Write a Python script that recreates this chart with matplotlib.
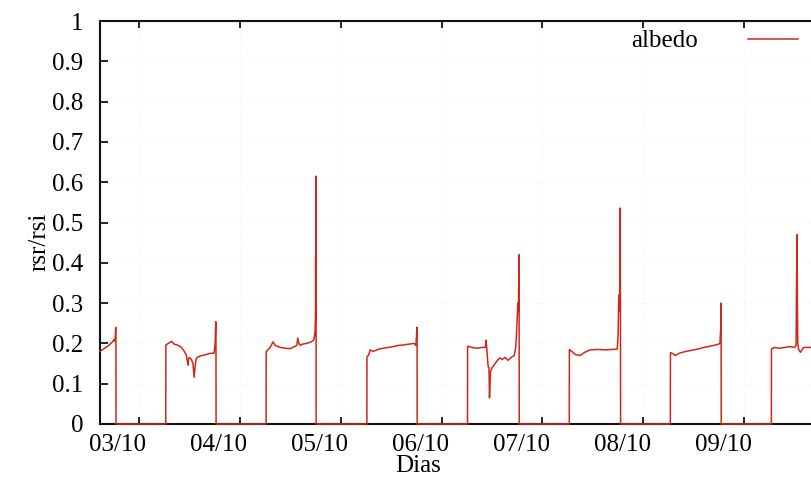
import matplotlib
matplotlib.use("Agg")
import matplotlib.pyplot as plt
import numpy as np

# ---- data (time in day-of-month, October) ----
day_ticks = [3, 4, 5, 6, 7, 8, 9]
day_labels = ["03/10", "04/10", "05/10", "06/10", "07/10", "08/10", "09/10"]

time = [
    2.613, 2.64, 2.67, 2.70, 2.72, 2.74, 2.755, 2.762, 2.769, 2.771, 2.772,
    3.265, 3.266, 3.29, 3.324, 3.35, 3.39, 3.42, 3.437, 3.45, 3.47, 3.48, 3.486, 3.49, 3.50,
    3.52, 3.535, 3.546, 3.555, 3.565, 3.575, 3.60, 3.63, 3.66, 3.70, 3.744, 3.755, 3.761, 3.763, 3.764,
    4.260, 4.261, 4.28, 4.30, 4.329, 4.35, 4.40, 4.45, 4.50, 4.54, 4.565, 4.574, 4.585, 4.597,
    4.62, 4.66, 4.70, 4.716, 4.735, 4.746, 4.750, 4.751, 4.753, 4.755, 4.756,
    5.259, 5.26, 5.275, 5.292, 5.32, 5.35, 5.38, 5.42, 5.47, 5.52, 5.57, 5.62, 5.67, 5.728,
    5.745, 5.752, 5.755, 5.757, 5.758,
    6.257, 6.258, 6.30, 6.35, 6.40, 6.433, 6.442, 6.45, 6.462, 6.47, 6.475, 6.485, 6.502, 6.53,
    6.56, 6.581, 6.60, 6.63, 6.66, 6.69, 6.72, 6.735, 6.740, 6.750, 6.757, 6.762, 6.768, 6.770,
    7.266, 7.267, 7.29, 7.33, 7.375, 7.42, 7.474, 7.55, 7.62, 7.70, 7.742, 7.750, 7.752, 7.757,
    7.765, 7.772, 7.775,
    8.268, 8.269, 8.29, 8.317, 8.36, 8.42, 8.48, 8.54, 8.60, 8.66, 8.70, 8.744, 8.76, 8.768, 8.771, 8.773,
    9.270, 9.271, 9.30, 9.35, 9.40, 9.45, 9.50, 9.515, 9.52, 9.525, 9.528, 9.532, 9.54, 9.558,
    9.59, 9.667, 9.70, 9.77, 9.772, 10.0,
]
albedo = [
    0.180, 0.185, 0.19, 0.195, 0.20, 0.205, 0.21, 0.205, 0.24, 0.21, 0.0,
    0.0, 0.196, 0.20, 0.205, 0.198, 0.195, 0.19, 0.184, 0.18, 0.17, 0.155, 0.146, 0.16, 0.165,
    0.16, 0.15, 0.116, 0.14, 0.16, 0.165, 0.168, 0.17, 0.172, 0.175, 0.176, 0.20, 0.254, 0.18, 0.0,
    0.0, 0.18, 0.185, 0.19, 0.204, 0.195, 0.19, 0.188, 0.187, 0.192, 0.195, 0.213, 0.20, 0.195,
    0.198, 0.20, 0.203, 0.205, 0.21, 0.23, 0.28, 0.415, 0.30, 0.615, 0.0,
    0.0, 0.167, 0.17, 0.184, 0.18, 0.183, 0.186, 0.188, 0.19, 0.192, 0.195, 0.196, 0.198, 0.20,
    0.195, 0.22, 0.24, 0.20, 0.0,
    0.0, 0.193, 0.19, 0.188, 0.19, 0.19, 0.208, 0.18, 0.142, 0.14, 0.065, 0.13, 0.14, 0.15,
    0.16, 0.164, 0.16, 0.165, 0.158, 0.165, 0.17, 0.19, 0.21, 0.26, 0.30, 0.28, 0.42, 0.0,
    0.0, 0.185, 0.18, 0.172, 0.17, 0.178, 0.184, 0.185, 0.184, 0.185, 0.186, 0.22, 0.25, 0.32,
    0.28, 0.536, 0.0,
    0.0, 0.177, 0.175, 0.17, 0.176, 0.18, 0.183, 0.186, 0.19, 0.193, 0.195, 0.198, 0.20, 0.24, 0.30, 0.0,
    0.0, 0.186, 0.19, 0.188, 0.19, 0.192, 0.19, 0.195, 0.35, 0.47, 0.30, 0.20, 0.185, 0.178,
    0.19, 0.19, 0.19, 0.195, 0.0, 0.0,
]
y_ticks = [0, 0.1, 0.2, 0.3, 0.4, 0.5, 0.6, 0.7, 0.8, 0.9, 1]
y_labels = ["0", "0.1", "0.2", "0.3", "0.4", "0.5", "0.6", "0.7", "0.8", "0.9", "1"]

# ---- style ----
plt.rcParams['font.family'] = ['Liberation Serif', 'DejaVu Serif']
FS = 18

fig = plt.figure(figsize=(8.11, 4.84), dpi=100)
W, H = 811, 484
ax = fig.add_axes([100 / W, 60 / H, 745 / W, 403 / H])

ax.plot(time, albedo, color='#cf2818', lw=1.1, label='albedo', clip_on=False, zorder=3)

ax.set_xlim(2.613, 10.0)
ax.set_ylim(0, 1)

# major ticks (tick marks + grid) at midnight
ax.set_xticks(day_ticks)
ax.set_xticklabels([""] * len(day_ticks))
# labels shifted left of tick marks, as in the original
ax.set_xticks([d - 0.21 for d in day_ticks], minor=True)
ax.set_xticklabels(day_labels, minor=True, fontsize=FS)
ax.tick_params(axis='x', which='minor', length=0, pad=7)
ax.tick_params(axis='x', which='major', direction='in', length=5, width=1.2, top=True)

ax.set_yticks(y_ticks)
ax.set_yticklabels(y_labels, fontsize=FS)
ax.tick_params(axis='y', which='major', direction='in', length=6, width=1.2, pad=12)

ax.grid(True, which='major', color='#ececec', lw=0.7, ls=(0, (1, 3)))

for s in ['left', 'bottom', 'top']:
    ax.spines[s].set_linewidth(1.5)
    ax.spines[s].set_color('#111111')
ax.spines['right'].set_visible(False)

ax.set_xlabel("Dias", fontsize=FS)
ax.xaxis.set_label_coords((418 - 100) / 745, -0.077)
ax.set_ylabel("rsr/rsi", fontsize=FS)
ax.yaxis.set_label_coords((50 - 100) / 745, 0.452)

leg = ax.legend(loc='upper right', bbox_to_anchor=(0.937, 0.978), frameon=False,
                markerfirst=False, fontsize=FS, handlelength=2.0, handletextpad=2.0,
                borderpad=0, borderaxespad=0)

fig.savefig("out.png", dpi=100)
